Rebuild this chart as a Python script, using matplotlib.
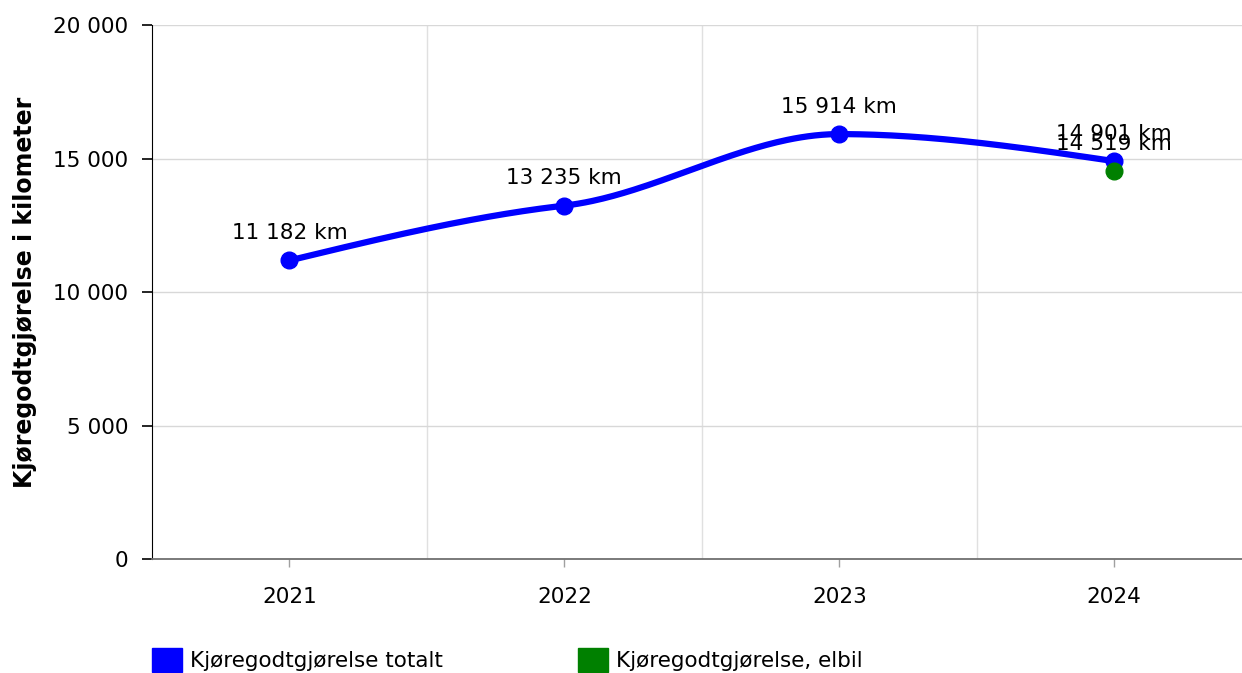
import matplotlib
matplotlib.use("Agg")
import matplotlib.pyplot as plt
from matplotlib.patches import Patch
import numpy as np

# data
aar = ["2021", "2022", "2023", "2024"]
totalt = [11182, 13235, 15914, 14901]
elbil_aar = ["2024"]
elbil = [14519]
y_ticks = [0, 5000, 10000, 15000, 20000]


def fmt(v):
    return f"{v:,}".replace(",", " ")


def monoton_kurve(xs, ys, n=80):
    # monoton kubisk hermite-kurve gjennom punktene
    xs = np.asarray(xs, float)
    ys = np.asarray(ys, float)
    h = np.diff(xs)
    s = np.diff(ys) / h
    m = np.zeros(len(xs))
    for i in range(1, len(xs) - 1):
        p = (s[i - 1] * h[i] + s[i] * h[i - 1]) / (h[i - 1] + h[i])
        if np.sign(s[i - 1]) == np.sign(s[i]):
            m[i] = np.sign(s[i]) * min(abs(s[i - 1]), abs(s[i]), 0.5 * abs(p))
    m[0] = (3 * s[0] - m[1]) / 2
    m[-1] = (3 * s[-1] - m[-2]) / 2
    outx, outy = [], []
    for i in range(len(xs) - 1):
        t = np.linspace(0, 1, n)
        h00 = 2 * t ** 3 - 3 * t ** 2 + 1
        h10 = t ** 3 - 2 * t ** 2 + t
        h01 = -2 * t ** 3 + 3 * t ** 2
        h11 = t ** 3 - t ** 2
        outx.extend(xs[i] + t * h[i])
        outy.extend(h00 * ys[i] + h10 * h[i] * m[i] + h01 * ys[i + 1] + h11 * h[i] * m[i + 1])
    return outx, outy


plt.rcParams['font.family'] = ['DejaVu Sans']
fs = 15.5

fig = plt.figure(figsize=(12.42, 6.73), dpi=100)
ax = fig.add_axes([152 / 1242, 1 - 559 / 673, (1242 - 152) / 1242, (559 - 25) / 673])

x = np.arange(len(aar))
kx, ky = monoton_kurve(x, totalt)
ax.plot(kx, ky, color="#0000ff", lw=4.5, solid_capstyle="round", zorder=3)
ax.plot(x, totalt, "o", color="#0000ff", ms=12, zorder=4)
ex = [aar.index(a) for a in elbil_aar]
ax.plot(ex, elbil, "o", color="#008000", ms=12, zorder=5)

for xi, v in list(zip(x, totalt)) + list(zip(ex, elbil)):
    ax.annotate(f"{fmt(v)} km", (xi, v), xytext=(0, 15.5), textcoords="offset points",
                ha="center", va="baseline", fontsize=fs, color="black", zorder=6)

ax.set_xlim(-0.5, 3.465)
ax.set_ylim(0, 20000)
ax.set_yticks(y_ticks)
ax.set_yticklabels([fmt(v) for v in y_ticks], fontsize=fs)
ax.set_xticks(x)
ax.set_xticklabels(aar, fontsize=fs)
ax.set_xticks([0.5, 1.5, 2.5], minor=True)

ax.grid(axis="y", color="#d8d8d8", lw=1)
ax.grid(axis="x", which="minor", color="#e0e0e0", lw=1)
ax.set_axisbelow(True)

for sp in ["top", "right"]:
    ax.spines[sp].set_visible(False)
ax.spines["left"].set_color("black")
ax.spines["bottom"].set_color("#707070")
ax.spines["bottom"].set_linewidth(1.3)
ax.tick_params(axis="y", length=7.2, width=1.2, color="black", pad=10)
ax.tick_params(axis="x", which="major", length=6, width=1, color="#a0a0a0", pad=14)
ax.tick_params(axis="x", which="minor", length=0)

ax.set_ylabel("Kjøregodtgjørelse i kilometer", fontsize=17, fontweight="bold")
ax.yaxis.set_label_coords(-115 / 1090, 0.5)

handles = [Patch(facecolor="#0000ff", edgecolor="#0000ff"),
           Patch(facecolor="#008000", edgecolor="#008000")]
fig.legend(handles, ["Kjøregodtgjørelse totalt", "Kjøregodtgjørelse, elbil"],
           loc="center left", bbox_to_anchor=(152 / 1242, 1 - 660 / 673), ncol=2, frameon=False,
           fontsize=fs, handlelength=1.4, handleheight=1.4, handletextpad=0.37,
           columnspacing=6.25, borderpad=0, borderaxespad=0)

fig.savefig("out.png", dpi=100)
